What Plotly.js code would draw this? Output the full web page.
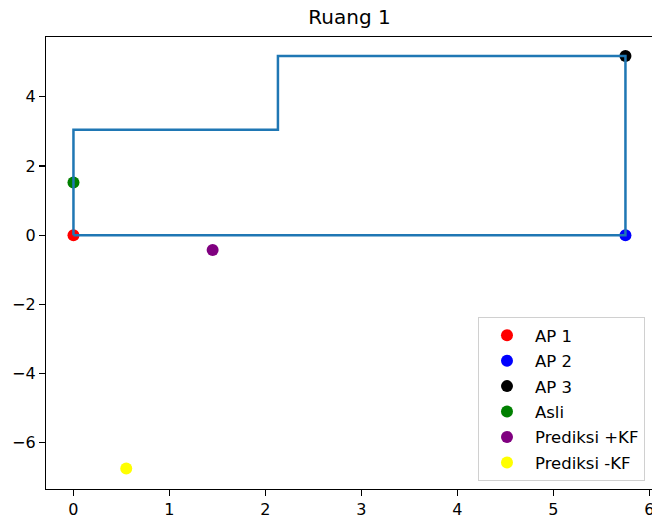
<!DOCTYPE html>
<html>
<head>
<meta charset="utf-8">
<script src="https://cdn.plot.ly/plotly-3.0.1.min.js"></script>
<style>
  html, body { margin: 0; padding: 0; overflow: hidden; background: #fff; }
  #chart { width: 655px; height: 523px; }
</style>
</head>
<body>
<div id="chart"></div>
<script>
// Point names, positions and colours
const pointNames  = ["AP 1", "AP 2", "AP 3", "Asli", "Prediksi +KF", "Prediksi -KF"];
const pointX      = [0, 5.75, 5.75, 0, 1.45, 0.55];
const pointY      = [0, 0, 5.18, 1.52, -0.43, -6.75];
const pointColors = ["red", "blue", "black", "green", "purple", "yellow"];

// Room outline
const roomX = [0, 0, 2.13, 2.13, 5.75, 5.75, 0];
const roomY = [0, 3.05, 3.05, 5.18, 5.18, 0, 0];

// Axis ticks
const xTicks = [0, 1, 2, 3, 4, 5, 6];
const yTicks = [-6, -4, -2, 0, 2, 4];

const FONT = "DejaVu Sans, sans-serif";

const traces = pointNames.map((name, i) => ({
  type: "scatter",
  mode: "markers",
  name: name,
  legendgroup: "g" + i,
  x: [pointX[i]],
  y: [pointY[i]],
  marker: { color: pointColors[i], size: 12, line: { width: 0 } },
  hoverinfo: "skip"
}));

// outline drawn last so it sits above the markers
traces.push({
  type: "scatter",
  mode: "lines",
  x: roomX,
  y: roomY,
  line: { color: "#1f77b4", width: 2.5 },
  showlegend: false,
  hoverinfo: "skip"
});

const axisCommon = {
  showgrid: false,
  zeroline: false,
  showline: true,
  mirror: true,
  linecolor: "#000",
  linewidth: 1.2,
  ticks: "outside",
  ticklen: 6,
  tickwidth: 1.2,
  tickcolor: "#000",
  tickfont: { family: FONT, size: 16, color: "#000" }
};

const layout = {
  width: 655,
  height: 523,
  margin: { l: 46, r: 2, t: 37, b: 34 },
  paper_bgcolor: "#fff",
  plot_bgcolor: "#fff",
  title: {
    text: "Ruang 1",
    font: { family: FONT, size: 20, color: "#000" },
    xref: "paper", x: 0.5, xanchor: "center",
    yref: "container", y: 1 - 17 / 523, yanchor: "middle"
  },
  xaxis: Object.assign({}, axisCommon, {
    range: [-0.286, 6.037],
    tickvals: xTicks
  }),
  yaxis: Object.assign({}, axisCommon, {
    range: [-7.34, 5.73],
    tickvals: yTicks
  }),
  showlegend: true,
  legend: {
    x: 0.9868, xanchor: "right",
    y: 0.0177, yanchor: "bottom",
    bgcolor: "rgba(255,255,255,0.8)",
    bordercolor: "#d0d0d0",
    borderwidth: 1,
    font: { family: FONT, size: 16.5, color: "#000" },
    tracegroupgap: 1,
    itemwidth: 46
  }
};

Plotly.newPlot("chart", traces, layout, { staticPlot: true, displayModeBar: false });
</script>
</body>
</html>
